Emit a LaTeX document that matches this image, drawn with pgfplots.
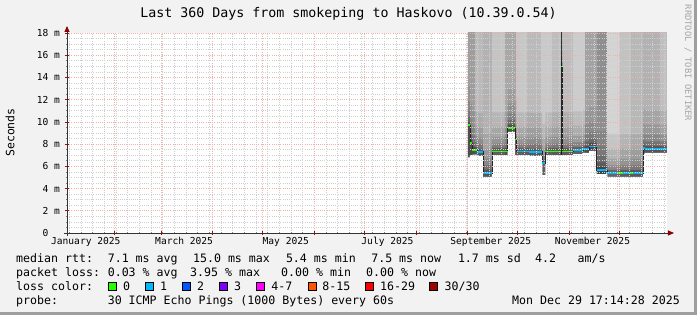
\documentclass[border=0pt]{standalone}
\usepackage{fontspec}
\setmainfont{DejaVu Sans Mono}
\usepackage{pgfplots}
\pgfplotsset{compat=1.18}
\usepackage{pgfplotstable}
\usetikzlibrary{arrows.meta,backgrounds}

\definecolor{bg}{HTML}{F2F2F2}
\definecolor{shadeb}{HTML}{9E9E9E}
\definecolor{mgrid}{HTML}{F0B0B0}
\definecolor{mingrid}{HTML}{CFCFCF}
\definecolor{arrowred}{HTML}{8B0000}
\definecolor{loss0}{HTML}{26FF00}
\definecolor{loss1}{HTML}{00B8FF}
\definecolor{loss2}{HTML}{0059FF}
\definecolor{loss3}{HTML}{7E00FF}
\definecolor{loss4}{HTML}{FF00FF}
\definecolor{loss8}{HTML}{FF5500}
\definecolor{loss16}{HTML}{FF0000}
\definecolor{loss30}{HTML}{A10000}

% x = days since 1 Jan 2025; lo = bottom of smoke; med = median rtt (ms); medc = median with breaks
\pgfplotstableread{
x lo med medc
243.3 6.8 9.7 9.7
244.5 6.8 9.7 9.7
244.5 7.0 8.1 nan
244.5 7.0 8.1 8.1
246.0 7.0 8.1 8.1
246.0 7.05 7.45 nan
246.0 7.05 7.45 7.45
249.0 7.05 7.45 7.45
249.0 6.95 7.3 nan
249.0 6.95 7.3 7.3
252.3 6.95 7.3 7.3
252.3 5.05 5.4 nan
252.3 5.05 5.4 5.4
257.7 5.05 5.4 5.4
257.7 7.0 7.35 nan
257.7 7.0 7.35 7.35
267.1 7.0 7.35 7.35
267.1 9.1 9.45 nan
267.1 9.1 9.45 9.45
271.6 9.1 9.45 9.45
271.6 7.0 8.4 nan
271.6 7.0 8.4 8.4
272.5 7.0 8.4 8.4
272.5 7.0 7.35 nan
272.5 7.0 7.35 7.35
280.0 7.0 7.35 7.35
280.0 6.95 7.3 nan
280.0 6.95 7.3 7.3
287.9 6.95 7.3 7.3
287.9 5.2 6.3 nan
287.9 5.2 6.3 6.3
289.8 5.2 6.3 6.3
289.8 7.0 7.35 nan
289.8 7.0 7.35 7.35
299.2 7.0 7.35 7.35
299.2 7.0 15.0 nan
299.2 7.0 15.0 15.0
299.9 7.0 15.0 15.0
299.9 7.0 7.35 nan
299.9 7.0 7.35 7.35
306.3 7.0 7.35 7.35
306.3 7.1 7.45 nan
306.3 7.1 7.45 7.45
312.3 7.1 7.45 7.45
312.3 7.2 7.55 nan
312.3 7.2 7.55 7.55
316.0 7.2 7.55 7.55
316.0 7.4 7.8 nan
316.0 7.4 7.8 7.8
320.5 7.4 7.8 7.8
320.5 5.3 5.65 nan
320.5 5.3 5.65 5.65
327.0 5.3 5.65 5.65
327.0 5.05 5.38 nan
327.0 5.05 5.38 5.38
332.7 5.05 5.38 5.38
336.3 5.05 5.38 5.38
340.5 5.05 5.38 5.38
342.3 5.05 5.38 5.38
348.4 5.05 5.38 5.38
348.4 7.1 7.65 nan
348.4 7.1 7.65 7.65
349.3 7.1 7.65 7.65
349.3 7.2 7.55 nan
349.3 7.2 7.55 7.55
362.718 7.2 7.55 7.55
}\smoke

\tikzset{lg/.style={anchor=base west, inner sep=0pt, font=\fontsize{11.6}{13}\selectfont}}

\begin{document}
\begin{tikzpicture}[x=1pt,y=1pt]
\begin{axis}[
  name=ax,
  scale only axis, width=600pt, height=200pt,
  xmin=2.718, xmax=362.718, ymin=0, ymax=18,
  axis lines=left,
  axis on top,
  axis background/.style={fill=white},
  xtick={31,59,90,120,151,181,212,243,273,304,334},
  xticklabels={},
  minor xtick={4,11,...,361},
  extra x ticks={14,73,134,195,257,318},
  extra x tick labels={January 2025,March 2025,May 2025,July 2025,September 2025,November 2025},
  extra x tick style={grid=none, major tick length=0pt},
  ytick={0,2,...,18},
  yticklabels={0\hphantom{\ m},2 m,4 m,6 m,8 m,10 m,12 m,14 m,16 m,18 m},
  minor y tick num=3,
  grid=both,
  major grid style={draw=mgrid, dash pattern=on 1pt off 1.2pt, line width=0.6pt},
  minor grid style={draw=mingrid, dash pattern=on 1pt off 1.2pt, line width=0.6pt},
  tick align=center,
  major tick length=4pt, minor tick length=2pt,
  major tick style={draw=red!75!black, line width=0.6pt},
  minor tick style={draw=black!50, line width=0.6pt},
  ticklabel style={font=\fontsize{9.6}{11}\selectfont},
  xticklabel style={yshift=-1pt},
  yticklabel style={xshift=-1.5pt},
  axis line style={draw=black!80, line width=0.8pt},
  x axis line style={-{Triangle[length=6pt,width=5pt,color=arrowred]}, shorten >=-7pt, shorten <=-3pt},
  y axis line style={-{Triangle[length=6pt,width=5pt,color=arrowred]}, shorten >=-7pt, shorten <=-3pt},
]
% smoke columns
\addplot[draw=none, fill=black!38] coordinates {(243.3,18.5) (247.5,18.5)} \closedcycle;
\addplot[draw=none, fill=black!27] coordinates {(247.5,18.5) (252.3,18.5)} \closedcycle;
\addplot[draw=none, fill=black!30] coordinates {(252.3,18.5) (257.7,18.5)} \closedcycle;
\addplot[draw=none, fill=black!23] coordinates {(257.7,18.5) (265.5,18.5)} \closedcycle;
\addplot[draw=none, fill=black!34] coordinates {(265.5,18.5) (272.1,18.5)} \closedcycle;
\addplot[draw=none, fill=black!22] coordinates {(272.1,18.5) (279.0,18.5)} \closedcycle;
\addplot[draw=none, fill=black!27] coordinates {(279.0,18.5) (287.1,18.5)} \closedcycle;
\addplot[draw=none, fill=black!21] coordinates {(287.1,18.5) (293.5,18.5)} \closedcycle;
\addplot[draw=none, fill=black!26] coordinates {(293.5,18.5) (299.1,18.5)} \closedcycle;
\addplot[draw=none, fill=black!78] coordinates {(299.1,18.5) (299.9,18.5)} \closedcycle;
\addplot[draw=none, fill=black!26] coordinates {(299.9,18.5) (306.3,18.5)} \closedcycle;
\addplot[draw=none, fill=black!20] coordinates {(306.3,18.5) (313.5,18.5)} \closedcycle;
\addplot[draw=none, fill=black!36] coordinates {(313.5,18.5) (320.7,18.5)} \closedcycle;
\addplot[draw=none, fill=black!44] coordinates {(320.7,18.5) (326.7,18.5)} \closedcycle;
\addplot[draw=none, fill=black!17] coordinates {(326.7,18.5) (334.5,18.5)} \closedcycle;
\addplot[draw=none, fill=black!24] coordinates {(334.5,18.5) (341.0,18.5)} \closedcycle;
\addplot[draw=none, fill=black!28] coordinates {(341.0,18.5) (348.3,18.5)} \closedcycle;
\addplot[draw=none, fill=black!30] coordinates {(348.3,18.5) (358.5,18.5)} \closedcycle;
\addplot[draw=none, fill=black!25] coordinates {(358.5,18.5) (362.718,18.5)} \closedcycle;
% darker smoke near the median (graded)
\addplot[draw=none, fill=black, fill opacity=0.07] table[x=x, y expr=\thisrow{med}+3.5] {\smoke} \closedcycle;
\addplot[draw=none, fill=black, fill opacity=0.08] table[x=x, y expr=\thisrow{med}+2.2] {\smoke} \closedcycle;
\addplot[draw=none, fill=black, fill opacity=0.10] table[x=x, y expr=\thisrow{med}+1.3] {\smoke} \closedcycle;
\addplot[draw=none, fill=black, fill opacity=0.15] table[x=x, y expr=\thisrow{med}+0.7] {\smoke} \closedcycle;
\addplot[draw=none, fill=black, fill opacity=0.25] table[x=x, y expr=\thisrow{med}+0.3] {\smoke} \closedcycle;
% nothing below the lowest ping
\addplot[draw=none, fill=white] table[x=x, y=lo] {\smoke} \closedcycle;
% median line
\addplot[draw=black!85, line width=0.8pt] table[x=x, y=med] {\smoke};
\addplot[draw=loss1, line width=1.5pt, unbounded coords=jump] table[x=x, y=medc] {\smoke};
\addplot[draw=loss0, line width=1.5pt, unbounded coords=jump, restrict x to domain=243:249] table[x=x, y=medc] {\smoke};
\addplot[draw=loss0, line width=1.5pt, unbounded coords=jump, restrict x to domain=257.7:272.5] table[x=x, y=medc] {\smoke};
\addplot[draw=loss0, line width=1.5pt, unbounded coords=jump, restrict x to domain=289.8:306.3] table[x=x, y=medc] {\smoke};
\addplot[draw=loss0, line width=1.5pt, unbounded coords=jump, restrict x to domain=332.7:336.3] table[x=x, y=medc] {\smoke};
\addplot[draw=loss0, line width=1.5pt, unbounded coords=jump, restrict x to domain=340.5:342.3] table[x=x, y=medc] {\smoke};
\coordinate (O) at (rel axis cs:0,0);
\end{axis}

\begin{scope}[on background layer]
\begin{scope}[shift={(O)}, shift={(-67,-82)}]
\fill[bg] (0,0) rectangle (697,315);
\fill[shadeb] (0,0) rectangle (697,3);
\fill[shadeb] (694,0) rectangle (697,315);
\end{scope}
\end{scope}

\begin{scope}[shift={(O)}, shift={(-67,-82)}]
\node[anchor=base, font=\fontsize{13.3}{15}\selectfont] at (348.5,297.3) {Last 360 Days from smokeping to Haskovo (10.39.0.54)};
\node[rotate=90, font=\fontsize{11.5}{13}\selectfont] at (10,182.5) {Seconds};
\node[rotate=-90, font=\fontsize{8.8}{10}\selectfont, text=black!35] at (688,252) {RRDTOOL / TOBI OETIKER};

\node[lg] at (16,52.3) {median rtt:};
\node[lg] at (107.6,52.3) {7.1 ms avg};
\node[lg] at (192.9,52.3) {15.0 ms max};
\node[lg] at (285.8,52.3) {5.4 ms min};
\node[lg] at (371.1,52.3) {7.5 ms now};
\node[lg] at (457.8,52.3) {1.7 ms sd};
\node[lg] at (535,52.3) {4.2};
\node[lg] at (577.5,52.3) {am/s};

\node[lg] at (16,38.3) {packet loss:};
\node[lg] at (107.6,38.3) {0.03 \% avg};
\node[lg] at (190,38.3) {3.95 \% max};
\node[lg] at (281,38.3) {0.00 \% min};
\node[lg] at (366,38.3) {0.00 \% now};

\node[lg] at (16,24.7) {loss color:};
\draw[fill=loss0, line width=0.6pt] (108.5,24.7) rectangle (116.5,32.7);
\node[lg] at (123,24.7) {0};
\draw[fill=loss1, line width=0.6pt] (145.5,24.7) rectangle (153.5,32.7);
\node[lg] at (160,24.7) {1};
\draw[fill=loss2, line width=0.6pt] (182.5,24.7) rectangle (190.5,32.7);
\node[lg] at (196.9,24.7) {2};
\draw[fill=loss3, line width=0.6pt] (219.3,24.7) rectangle (227.3,32.7);
\node[lg] at (233.8,24.7) {3};
\draw[fill=loss4, line width=0.6pt] (256.6,24.7) rectangle (264.6,32.7);
\node[lg] at (271.1,24.7) {4-7};
\draw[fill=loss8, line width=0.6pt] (307.8,24.7) rectangle (315.8,32.7);
\node[lg] at (322.2,24.7) {8-15};
\draw[fill=loss16, line width=0.6pt] (365.5,24.7) rectangle (373.5,32.7);
\node[lg] at (380,24.7) {16-29};
\draw[fill=loss30, line width=0.6pt] (429.1,24.7) rectangle (437.1,32.7);
\node[lg] at (444.4,24.7) {30/30};

\node[lg] at (16,10.7) {probe:};
\node[lg] at (107.6,10.7) {30 ICMP Echo Pings (1000 Bytes) every 60s};
\node[lg, anchor=base east] at (680,10.7) {Mon Dec 29 17:14:28 2025};
\end{scope}

\pgfresetboundingbox
\path[use as bounding box, shift={(O)}, shift={(-67,-82)}] (0,0) rectangle (697,315);
\end{tikzpicture}
\end{document}
